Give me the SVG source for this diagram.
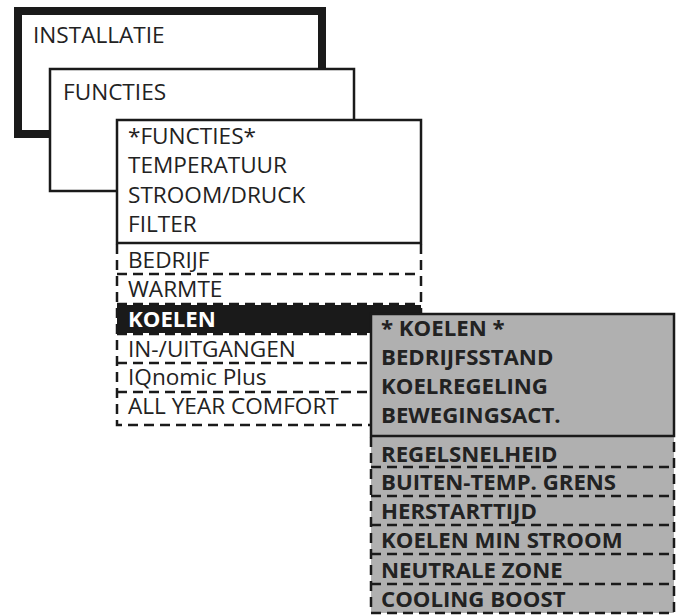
<svg xmlns="http://www.w3.org/2000/svg" width="682" height="615" viewBox="0 0 682 615">
<style>
.t{font-family:"Open Sans","Liberation Sans",sans-serif;font-size:22.6px;fill:#222}
.b{font-family:"Open Sans","Liberation Sans",sans-serif;font-size:22.2px;font-weight:bold;fill:#222}
.w{font-family:"Open Sans","Liberation Sans",sans-serif;font-size:22.2px;font-weight:bold;fill:#fff}
.s{fill:#fff;stroke:#1a1a1a;stroke-width:2.5}
.d{stroke:#1a1a1a;stroke-width:2.5;stroke-dasharray:10 6;fill:none}
</style>
<rect width="682" height="615" fill="#fff"/>
<g id="installatie">
<rect x="18" y="11" width="304" height="123" fill="#fff" stroke="#1a1a1a" stroke-width="8"/>
<text class="t" x="33" y="43">INSTALLATIE</text>
</g>
<g id="functies">
<rect class="s" x="50" y="69" width="304" height="122"/>
<text class="t" x="63" y="100">FUNCTIES</text>
</g>
<g id="functies-menu">
<rect class="s" x="117" y="120" width="304" height="123"/>
<text class="t" x="128" y="144">*FUNCTIES*</text>
<text class="t" x="128" y="173">TEMPERATUUR</text>
<text class="t" x="128" y="203">STROOM/DRUCK</text>
<text class="t" x="128" y="232">FILTER</text>
<rect x="117" y="305" width="304" height="28" fill="#1a1a1a"/>
<path class="d" d="M117 244V425H421V244M117 274H421M117 304H421M117 334H421M117 363H421M117 392H421"/>
<text class="t" x="128" y="268">BEDRIJF</text>
<text class="t" x="128" y="297">WARMTE</text>
<text class="w" x="128" y="327">KOELEN</text>
<text class="t" x="128" y="357">IN-/UITGANGEN</text>
<text class="t" x="128" y="385">IQnomic Plus</text>
<text class="t" x="128" y="414">ALL YEAR COMFORT</text>
</g>
<g id="koelen-menu">
<rect x="371" y="314" width="303" height="299" fill="#b0b0b0"/>
<rect x="371" y="314" width="303" height="122" fill="none" stroke="#1a1a1a" stroke-width="2.5"/>
<path class="d" d="M371 437V613H674V437M371 467H674M371 496H674M371 525H674M371 554H674M371 584H674"/>
<text class="b" x="381" y="336">* KOELEN *</text>
<text class="b" x="381" y="365">BEDRIJFSSTAND</text>
<text class="b" x="381" y="394">KOELREGELING</text>
<text class="b" x="381" y="423">BEWEGINGSACT.</text>
<text class="b" x="381" y="462">REGELSNELHEID</text>
<text class="b" x="381" y="490">BUITEN-TEMP. GRENS</text>
<text class="b" x="381" y="519">HERSTARTTIJD</text>
<text class="b" x="381" y="548">KOELEN MIN STROOM</text>
<text class="b" x="381" y="578">NEUTRALE ZONE</text>
<text class="b" x="381" y="607">COOLING BOOST</text>
</g>
<g id="connectors"></g>
</svg>
